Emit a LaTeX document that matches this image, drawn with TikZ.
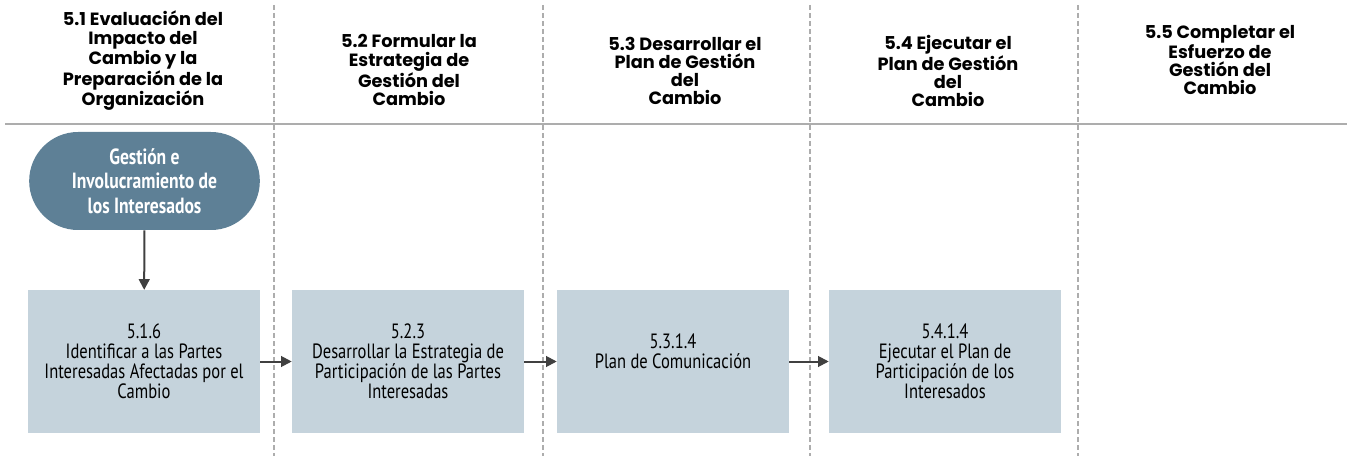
\documentclass[tikz,border=0pt]{standalone}
\usepackage{fontspec}
\setmainfont{PT Sans}[FakeStretch=0.8]
\newfontfamily\headfont{Poppins}
\usetikzlibrary{arrows.meta}
\definecolor{taskfill}{HTML}{C5D3DC}
\definecolor{startfill}{HTML}{5E8096}
\definecolor{linkgray}{HTML}{404040}
\definecolor{rulegray}{HTML}{ADADAD}

\begin{document}
\begin{tikzpicture}[x=0.75pt,y=-0.75pt,
    divider/.style={draw=rulegray, line width=1.1pt, dash pattern=on 3.5pt off 2.5pt},
    header/.style={align=center, inner sep=0pt, font=\headfont\bfseries\fontsize{13.3}{13.6}\selectfont},
    task/.style={fill=taskfill, minimum width=174pt, minimum height=107pt,
        align=center, inner sep=0pt, font=\fontsize{15.5}{15}\selectfont},
    start/.style={fill=startfill, text=white, minimum width=173pt, minimum height=73.5pt,
        rounded corners=36.7pt, align=center, inner sep=0pt, font=\bfseries\fontsize{16.5}{18.5}\selectfont},
    link/.style={draw=linkgray, line width=1.5pt, -{Triangle[length=8pt, width=8pt]}}]

    \useasboundingbox (0,0) rectangle (1347,456);

        % columns
        \foreach \x in {274,543,810,1078} \draw[divider] (\x,5) -- (\x,456);
        \draw[rulegray, line width=1.5pt] (5,124) -- (1347,124);

        \node[header] (h51) at (143,61) {5.1 Evaluación del\\Impacto del\\Cambio y la\\Preparación de la\\Organización};
        \node[header] (h52) at (409,70) {5.2 Formular la\\Estrategia de\\Gestión del\\Cambio};
        \node[header] (h53) at (685,71) {5.3 Desarrollar el\\Plan de Gestión\\del\\Cambio};
        \node[header] (h54) at (948,71) {5.4 Ejecutar el\\Plan de Gestión\\del\\Cambio};
        \node[header] (h55) at (1220,60) {5.5 Completar el\\Esfuerzo de\\Gestión del\\Cambio};

        % nodes
        \node[start] (gest) at (144.5,181) {Gestión e\\Involucramiento de\\los Interesados};
        \node[task] (t516) at (144,361.5) {5.1.6\\Identificar a las Partes\\Interesadas Afectadas por el\\Cambio};
        \node[task] (t523) at (408,361.5) {5.2.3\\Desarrollar la Estrategia de\\Participación de las Partes\\Interesadas};
        \node[task] (t5314) at (673,361.5) {5.3.1.4\\Plan de Comunicación\\\mbox{}};
        \node[task] (t5414) at (945,361.5) {5.4.1.4\\Ejecutar el Plan de\\Participación de los\\Interesados};

        \draw[link] (gest) -- (t516);
        \draw[link] (t516) -- (t523);
        \draw[link] (t523) -- (t5314);
        \draw[link] (t5314) -- (t5414);

    \end{tikzpicture}
\end{document}
